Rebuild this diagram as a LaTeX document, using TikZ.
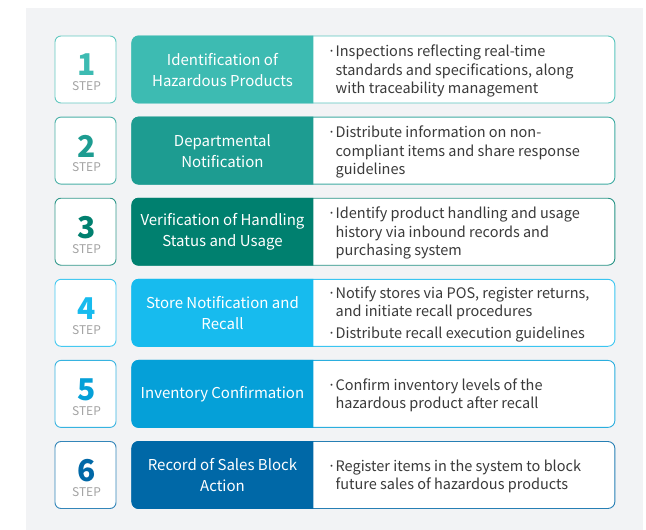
\documentclass[tikz,border=0pt]{standalone}
\usepackage{fontspec}
\setmainfont{Noto Sans CJK KR}
\usepackage{xcolor}
\definecolor{HZbg}{HTML}{F2F3F5}
\definecolor{HZtext}{HTML}{3A3A3A}
\definecolor{HZgray}{HTML}{A3A3A3}
\definecolor{HZone}{HTML}{3DBBB2}
\definecolor{HZtwo}{HTML}{1D9C91}
\definecolor{HZthree}{HTML}{00806F}
\definecolor{HZfour}{HTML}{17BBEE}
\definecolor{HZfive}{HTML}{05A0D8}
\definecolor{HZsix}{HTML}{0068A7}
\usepackage{tikz}
\usetikzlibrary{positioning}
\newcommand{\bul}{\makebox[8pt][l]{·}}
\newcommand{\ind}{\hspace*{8pt}}

\begin{document}
\begin{tikzpicture}[x=1pt, y=1pt,
  node distance=13.2pt and 15pt,
  stepbox/.style={draw=#1!80, line width=0.9pt, fill=white, rounded corners=6pt,
    minimum width=61pt, minimum height=67pt, inner sep=0pt},
  card/.style={draw=#1!85, line width=0.9pt, fill=white, rounded corners=7pt,
    minimum width=483pt, minimum height=67pt, inner sep=0pt},
  band/.style={fill=#1},
  ttl/.style={text=white, align=center, font=\fontsize{15}{21}\selectfont, inner sep=0pt},
  desc/.style={text=HZtext, align=left, font=\fontsize{14.5}{18.5}\selectfont, inner sep=0pt, anchor=west},
  num/.style={font=\fontsize{30}{30}\selectfont\bfseries, text=#1, inner sep=0pt},
  steptag/.style={font=\fontsize{12}{12}\selectfont, text=HZgray, inner sep=0pt}
]
\useasboundingbox (0,0) rectangle (646,-530);
\fill[HZbg] (26,-8) rectangle (643,-530);

% step 1
\node[stepbox=HZone] (s1) at (85.5,-69.5) {};
\node[card=HZone, right=15pt of s1] (c1) {};
\fill[band=HZone] ([xshift=182pt]c1.north west) [rounded corners=7pt] -- (c1.north west) -- (c1.south west) [sharp corners] -- ([xshift=182pt]c1.south west) -- cycle;
\node[ttl] (t1) at ([xshift=91pt,yshift=-0.5pt]c1.west) {Identification of\\Hazardous Products};
\node[desc] (d1) at ([xshift=196pt,yshift=-1.5pt]c1.west) {\bul Inspections reflecting real-time\\\ind standards and specifications, along\\\ind with traceability management};
\node[num=HZone] (n1) at ([xshift=1.5pt,yshift=4.5pt]s1.center) {1};
\node[steptag] (p1) at ([xshift=1pt,yshift=-17pt]s1.center) {STEP};

% step 2
\node[stepbox=HZtwo, below=of s1] (s2) {};
\node[card=HZtwo, right=15pt of s2] (c2) {};
\fill[band=HZtwo] ([xshift=182pt]c2.north west) [rounded corners=7pt] -- (c2.north west) -- (c2.south west) [sharp corners] -- ([xshift=182pt]c2.south west) -- cycle;
\node[ttl] (t2) at ([xshift=91pt,yshift=-0.5pt]c2.west) {Departmental\\Notification};
\node[desc] (d2) at ([xshift=196pt,yshift=-1.5pt]c2.west) {\bul Distribute information on non-\\\ind compliant items and share response\\\ind guidelines};
\node[num=HZtwo] (n2) at ([xshift=1.5pt,yshift=4.5pt]s2.center) {2};
\node[steptag] (p2) at ([xshift=1pt,yshift=-17pt]s2.center) {STEP};

% step 3
\node[stepbox=HZthree, below=of s2] (s3) {};
\node[card=HZthree, right=15pt of s3] (c3) {};
\fill[band=HZthree] ([xshift=182pt]c3.north west) [rounded corners=7pt] -- (c3.north west) -- (c3.south west) [sharp corners] -- ([xshift=182pt]c3.south west) -- cycle;
\node[ttl] (t3) at ([xshift=91pt,yshift=-0.5pt]c3.west) {Verification of Handling\\Status and Usage};
\node[desc] (d3) at ([xshift=196pt,yshift=-1.5pt]c3.west) {\bul Identify product handling and usage\\\ind history via inbound records and\\\ind purchasing system};
\node[num=HZthree] (n3) at ([xshift=1.5pt,yshift=4.5pt]s3.center) {3};
\node[steptag] (p3) at ([xshift=1pt,yshift=-17pt]s3.center) {STEP};

% step 4
\node[stepbox=HZfour, below=of s3] (s4) {};
\node[card=HZfour, right=15pt of s4] (c4) {};
\fill[band=HZfour] ([xshift=182pt]c4.north west) [rounded corners=7pt] -- (c4.north west) -- (c4.south west) [sharp corners] -- ([xshift=182pt]c4.south west) -- cycle;
\node[ttl] (t4) at ([xshift=91pt,yshift=-0.5pt]c4.west) {Store Notification and\\Recall};
\node[desc] (d4) at ([xshift=196pt,yshift=-1.5pt]c4.west) {\bul Notify stores via POS, register returns,\\\ind and initiate recall procedures\\[3.5pt]\bul Distribute recall execution guidelines};
\node[num=HZfour] (n4) at ([xshift=1.5pt,yshift=4.5pt]s4.center) {4};
\node[steptag] (p4) at ([xshift=1pt,yshift=-17pt]s4.center) {STEP};

% step 5
\node[stepbox=HZfive, below=of s4] (s5) {};
\node[card=HZfive, right=15pt of s5] (c5) {};
\fill[band=HZfive] ([xshift=182pt]c5.north west) [rounded corners=7pt] -- (c5.north west) -- (c5.south west) [sharp corners] -- ([xshift=182pt]c5.south west) -- cycle;
\node[ttl] (t5) at ([xshift=91pt,yshift=-0.5pt]c5.west) {Inventory Confirmation};
\node[desc] (d5) at ([xshift=196pt,yshift=-1.5pt]c5.west) {\bul Confirm inventory levels of the\\\ind hazardous product after recall};
\node[num=HZfive] (n5) at ([xshift=1.5pt,yshift=4.5pt]s5.center) {5};
\node[steptag] (p5) at ([xshift=1pt,yshift=-17pt]s5.center) {STEP};

% step 6
\node[stepbox=HZsix, below=of s5] (s6) {};
\node[card=HZsix, right=15pt of s6] (c6) {};
\fill[band=HZsix] ([xshift=182pt]c6.north west) [rounded corners=7pt] -- (c6.north west) -- (c6.south west) [sharp corners] -- ([xshift=182pt]c6.south west) -- cycle;
\node[ttl] (t6) at ([xshift=91pt,yshift=-0.5pt]c6.west) {Record of Sales Block\\Action};
\node[desc] (d6) at ([xshift=196pt,yshift=-1.5pt]c6.west) {\bul Register items in the system to block\\\ind future sales of hazardous products};
\node[num=HZsix] (n6) at ([xshift=1.5pt,yshift=4.5pt]s6.center) {6};
\node[steptag] (p6) at ([xshift=1pt,yshift=-17pt]s6.center) {STEP};
\end{tikzpicture}
\end{document}
